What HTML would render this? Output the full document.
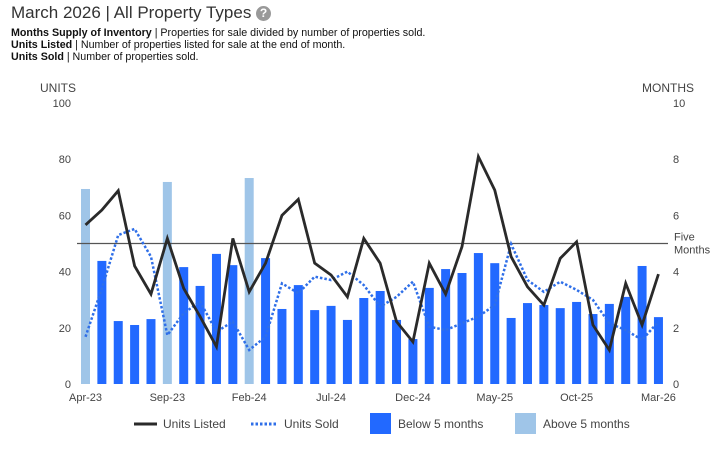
<!DOCTYPE html>
<html><head><meta charset="utf-8"><style>
body{margin:0;background:#fff;font-family:"Liberation Sans",Arial,sans-serif;color:#222}
#w{position:relative;width:723px;height:455px;overflow:hidden}
.t{position:absolute;white-space:nowrap}
</style></head><body>
<div id="w">
<div class="t" style="left:11px;top:3px;font-size:17px;color:#333">March 2026 | All Property Types <span style="display:inline-block;width:15px;height:15px;border-radius:50%;background:#999;color:#fff;font-size:12px;font-weight:bold;text-align:center;line-height:15px;vertical-align:1px">?</span></div>
<div class="t" style="left:11px;top:27px;font-size:10.7px;line-height:12px;color:#111"><b>Months Supply of Inventory</b> | Properties for sale divided by number of properties sold.<br><b>Units Listed</b> | Number of properties listed for sale at the end of month.<br><b>Units Sold</b> | Number of properties sold.</div>
<svg id="c" width="723" height="455" style="position:absolute;left:0;top:0"></svg>
</div>
<script>
const categories=["Apr-23","May-23","Jun-23","Jul-23","Aug-23","Sep-23","Oct-23","Nov-23","Dec-23","Jan-24","Feb-24","Mar-24","Apr-24","May-24","Jun-24","Jul-24","Aug-24","Sep-24","Oct-24","Nov-24","Dec-24","Jan-25","Feb-25","Mar-25","Apr-25","May-25","Jun-25","Jul-25","Aug-25","Sep-25","Oct-25","Nov-25","Dec-25","Jan-26","Feb-26","Mar-26"];
const supplyBars=[69.4,43.8,22.4,21,23.1,71.9,41.6,34.9,46.3,42.3,73.3,44.8,26.7,35.2,26.3,27.8,22.8,30.6,33.1,22.8,16,34.2,40.9,39.5,46.6,43,23.5,28.8,28.1,27,29.2,24.9,28.5,31,42,23.8];
const aboveFive=[1,0,0,0,0,1,0,0,0,0,1,0,0,0,0,0,0,0,0,0,0,0,0,0,0,0,0,0,0,0,0,0,0,0,0,0];
const unitsListed=[5.66,6.19,6.88,4.2,3.2,5.18,3.4,2.4,1.33,5.18,3.28,4.3,6.0,6.57,4.3,3.88,3.1,5.18,4.3,2.22,1.5,4.3,3.2,4.89,8.09,6.9,4.53,3.46,2.81,4.47,5.06,2.1,1.21,3.58,2.1,3.91];
const unitsSold=[1.68,3.4,5.3,5.52,4.53,1.74,2.52,2.93,1.86,2.22,1.21,1.68,3.58,3.23,3.82,3.7,4.0,3.52,2.75,3.1,3.64,2.04,1.92,2.16,2.4,2.81,4.98,3.7,3.28,3.64,3.35,2.99,2.16,1.92,1.57,2.22];
const leftTicks=[0,20,40,60,80,100];
const rightTicks=[0,2,4,6,8,10];
const xLabelIdx=[0,5,10,15,20,25,30,35];
const fiveMonths=5;

const svg=document.getElementById('c');const NS='http://www.w3.org/2000/svg';
function mk(tag,attrs,parent){const e=document.createElementNS(NS,tag);for(const k in attrs)e.setAttribute(k,attrs[k]);(parent||svg).appendChild(e);return e;}
const X0=85.5,DX=16.37,Y0=384,Y1=103;
const xs=i=>X0+i*DX;
const yL=v=>Y0-(v/100)*(Y0-Y1);
const yR=v=>Y0-(v/10)*(Y0-Y1);
let t=mk('text',{x:40,y:92,'font-size':12,fill:'#444'});t.textContent='UNITS';


t=mk('text',{x:642,y:92,'font-size':12,fill:'#444'});t.textContent='MONTHS';


leftTicks.forEach(v=>{const e=mk('text',{x:71,y:yL(v)+4,'font-size':11,fill:'#444','text-anchor':'end'});e.textContent=v;

});
rightTicks.forEach(v=>{const e=mk('text',{x:673,y:yR(v)+4,'font-size':11,fill:'#444'});e.textContent=v;

});
xLabelIdx.forEach(i=>{const e=mk('text',{x:xs(i),y:401,'font-size':11,fill:'#444','text-anchor':'middle'});e.textContent=categories[i];

});
supplyBars.forEach((v,i)=>{const b=mk('rect',{x:xs(i)-4.5,y:yL(v),width:9,height:Y0-yL(v),fill:aboveFive[i]?'#9fc5e8':'#2269ff'});

});
const fl=mk('line',{x1:77,x2:668,y1:yR(fiveMonths),y2:yR(fiveMonths),stroke:'#555','stroke-width':1.2});


t=mk('text',{x:674,y:yR(fiveMonths)-3,'font-size':11,fill:'#444'});t.textContent='Five';


t=mk('text',{x:674,y:yR(fiveMonths)+10,'font-size':11,fill:'#444'});t.textContent='Months';


const sold=mk('polyline',{points:unitsSold.map((v,i)=>xs(i)+','+yR(v)).join(' '),fill:'none',stroke:'#2f6fe8','stroke-width':2.5,'stroke-dasharray':'2.5,2'});


const listed=mk('polyline',{points:unitsListed.map((v,i)=>xs(i)+','+yR(v)).join(' '),fill:'none',stroke:'#2a2a2a','stroke-width':2.8,'stroke-linejoin':'miter'});


const lg=mk('g',{});


let e=mk('line',{x1:134,x2:157,y1:424,y2:424,stroke:'#2a2a2a','stroke-width':3},lg);
t=mk('text',{x:163,y:428,'font-size':12,fill:'#444'},lg);t.textContent='Units Listed';


e=mk('line',{x1:251,x2:277,y1:424,y2:424,stroke:'#2f6fe8','stroke-width':3,'stroke-dasharray':'2.5,2'},lg);
t=mk('text',{x:284,y:428,'font-size':12,fill:'#444'},lg);t.textContent='Units Sold';


e=mk('rect',{x:370,y:413,width:21,height:21,fill:'#2269ff'},lg);
t=mk('text',{x:398,y:428,'font-size':12,fill:'#444'},lg);t.textContent='Below 5 months';


e=mk('rect',{x:515,y:413,width:21,height:21,fill:'#9fc5e8'},lg);
t=mk('text',{x:543,y:428,'font-size':12,fill:'#444'},lg);t.textContent='Above 5 months';


</script>
</body></html>
